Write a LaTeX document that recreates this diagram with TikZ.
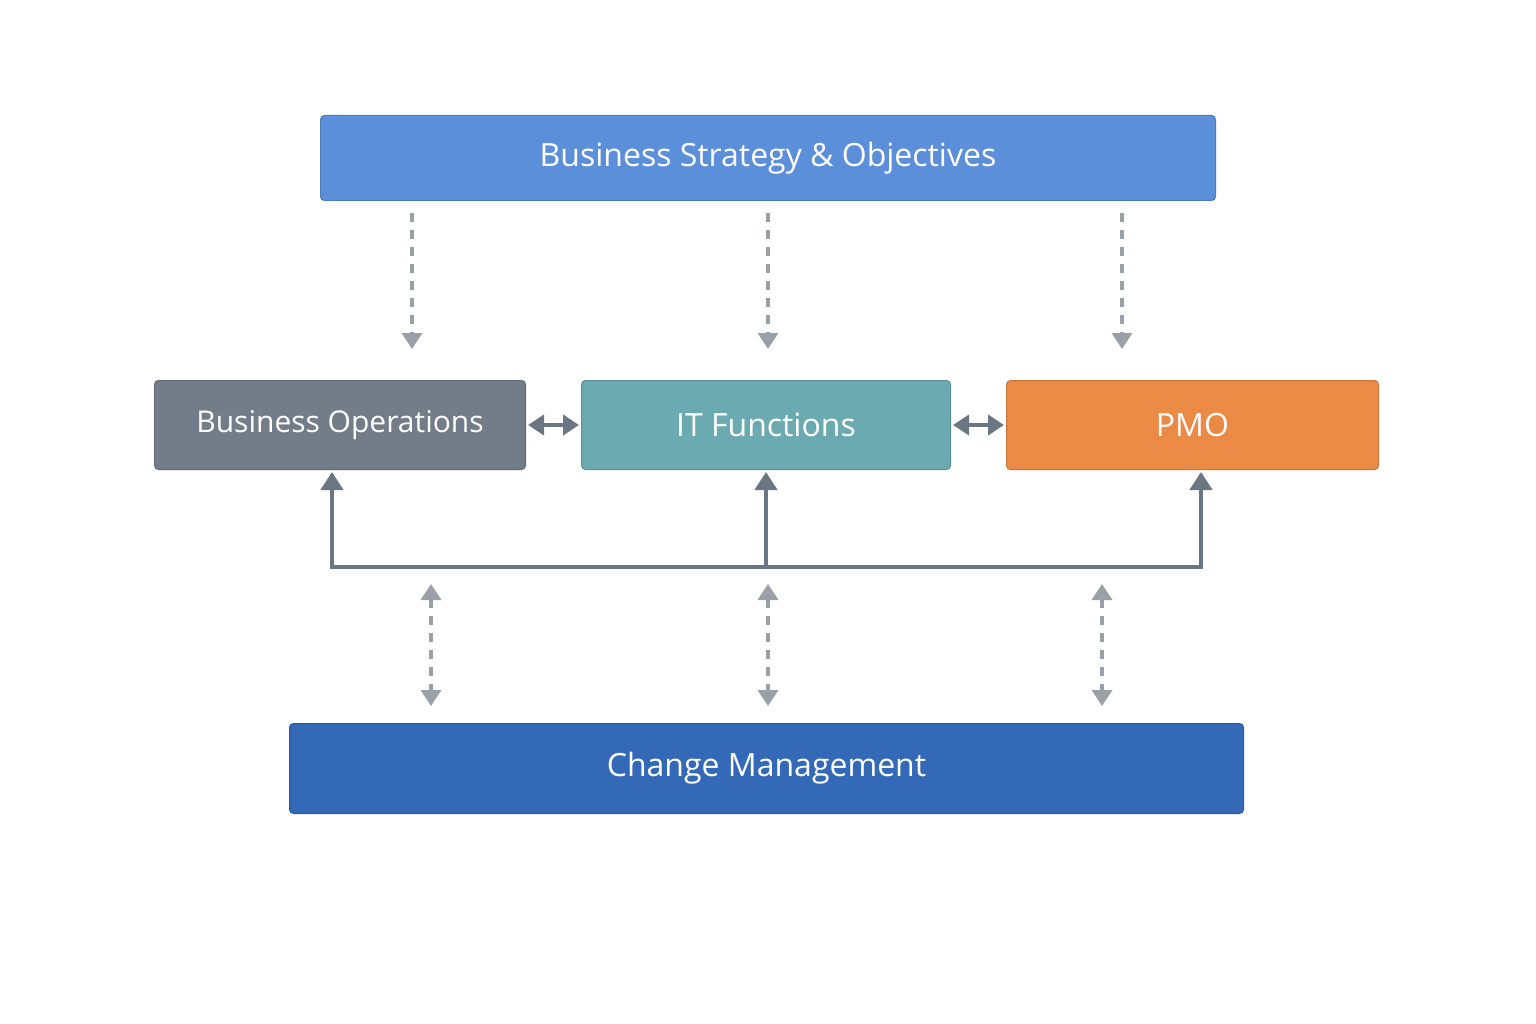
\documentclass[tikz,border=0pt]{standalone}
\usepackage{fontspec}
\setmainfont{Open Sans}
\usetikzlibrary{arrows.meta,calc}
\definecolor{cTop}{HTML}{5B8FD9}
\definecolor{cOps}{HTML}{737D89}
\definecolor{cIT}{HTML}{6AAAB0}
\definecolor{cPMO}{HTML}{EA8A45}
\definecolor{cChg}{HTML}{3469B8}
\definecolor{cDash}{HTML}{9AA0A8}
\definecolor{cLine}{HTML}{6B7683}
\begin{document}
\begin{tikzpicture}[x=1pt,y=-1pt,
 box/.style={draw=#1!85!black,line width=1pt,fill=#1,rounded corners=4pt,text=white,font=\fontsize{32}{38}\selectfont,anchor=north west,inner sep=0pt},
 dsh/.style={draw=cDash,line width=3.5pt,dash pattern=on 9pt off 8pt,-{Triangle[width=20pt,length=16pt]}},
 dsh2/.style={dsh,{Triangle[width=20pt,length=16pt]}-{Triangle[width=20pt,length=16pt]}},
 sol/.style={draw=cLine,line width=4.5pt,-{Triangle[width=22pt,length=18pt]}},
 dbl/.style={draw=cLine,line width=4.5pt,{Triangle[width=20pt,length=16pt]}-{Triangle[width=20pt,length=16pt]}}]
\useasboundingbox[fill=white] (0,0) rectangle (1536,1024);
\node[box=cTop,minimum width=895pt,minimum height=85pt] (top) at (320,115) {Business Strategy \& Objectives};
\node[box=cOps,minimum width=371pt,minimum height=89pt,font=\fontsize{30}{36}\selectfont] (ops) at (154,380) {Business Operations};
\node[box=cIT,minimum width=369pt,minimum height=89pt] (it) at (581,380) {IT Functions};
\node[box=cPMO,minimum width=372pt,minimum height=89pt] (pmo) at (1006,380) {PMO};
\node[box=cChg,minimum width=954pt,minimum height=90pt] (chg) at (289,723) {Change Management};
% dashed down from strategy
\foreach \n/\x in {a/412,b/768,c/1122}{
 \coordinate (d\n1) at (\x,213); \coordinate (d\n2) at (\x,349);
 \draw[dsh] (d\n1) -- (d\n2);}
% double arrows between middle boxes
\draw[dbl] ($(ops.east)+(2,0)$) -- ($(it.west)+(-2,0)$);
\draw[dbl] ($(it.east)+(2,0)$) -- ($(pmo.west)+(-2,0)$);
% solid bus
\coordinate (bl) at (332,567); \coordinate (bm) at (766,567); \coordinate (br) at (1201,567);
\draw[cLine,line width=4.5pt,line join=miter] (332,474) -- (bl) -- (br) -- (1201,474);
\draw[sol] (bl) -- (332,472);
\draw[sol] (bm) -- (766,472);
\draw[sol] (br) -- (1201,472);
% dashed bidirectional
\foreach \n/\x in {a/431,b/768,c/1102}{
 \coordinate (e\n1) at (\x,584); \coordinate (e\n2) at (\x,706);
 \draw[dsh2] (e\n1) -- (e\n2);}
\end{tikzpicture}
\end{document}
